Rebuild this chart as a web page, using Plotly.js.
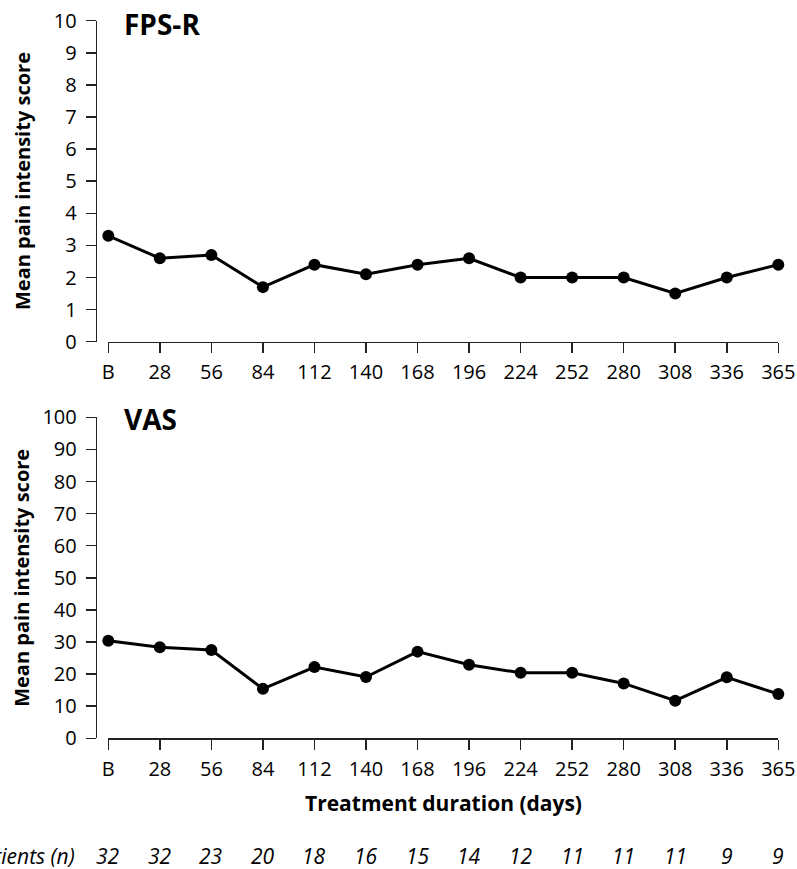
<!DOCTYPE html>
<html>
<head>
<meta charset="utf-8">
<script src="https://cdn.plot.ly/plotly-3.0.1.min.js"></script>
<style>html,body{margin:0;padding:0;background:#fff;}#chart{width:797px;height:869px;}</style>
</head>
<body>
<div id="chart"></div>
<script>
const categories = ['B','28','56','84','112','140','168','196','224','252','280','308','336','365'];
const fpsrValues = [3.3,2.6,2.7,1.7,2.4,2.1,2.4,2.6,2.0,2.0,2.0,1.5,2.0,2.4];
const vasValues = [30.4,28.4,27.5,15.4,22.2,19.1,27.0,22.9,20.4,20.4,17.1,11.7,19.0,13.8];
const patientCounts = [32,32,23,20,18,16,15,14,12,11,11,11,9,9];
const panelTitles = ['FPS-R','VAS'];
const yTitle = 'Mean pain intensity score';
const xTitle = 'Treatment duration (days)';
const patientsLabel = 'Number of patients (n)';

const W = 797, H = 869;
const FONT = 'Open Sans, sans-serif';
const px = v => v / W;
const py = v => 1 - v / H;

const xDom = [px(108.3), px(778.3)];
const yDomTop = [py(341.7), py(20.7)];
const yDomBot = [py(738.3), py(417.3)];
const yAxisPos = px(95.7);

const lineStyle = {color:'#000', width:3};
const markerStyle = {color:'#000', size:12};

const traces = [
  {x:categories, y:fpsrValues, xaxis:'x', yaxis:'y', type:'scatter', mode:'lines+markers',
   line:lineStyle, marker:markerStyle, cliponaxis:false, showlegend:false},
  {x:categories, y:vasValues, xaxis:'x2', yaxis:'y2', type:'scatter', mode:'lines+markers',
   line:lineStyle, marker:markerStyle, cliponaxis:false, showlegend:false}
];

const tickFont = {family:FONT, size:20, color:'#000'};
function xAxis(yref){
  return {domain:xDom, anchor:yref, type:'category', range:[0,13], showline:true, linecolor:'#222',
    linewidth:1.5, ticks:'outside', ticklen:10, tickwidth:1.5, tickcolor:'#222', showgrid:false,
    zeroline:false, tickfont:tickFont, fixedrange:true, ticklabelstandoff:2};
}
function yAxis(dom, rng, dt){
  return {domain:dom, anchor:'free', position:yAxisPos, range:rng, dtick:dt, tick0:0, showline:true,
    linecolor:'#222', linewidth:1.5, ticks:'outside', ticklen:10, tickwidth:1.5, tickcolor:'#222',
    showgrid:false, zeroline:false, tickfont:tickFont, fixedrange:true, ticklabelstandoff:5};
}

const annotations = [];
annotations.push({text:'<b>'+panelTitles[0]+'</b>', xref:'paper', yref:'paper', x:px(122), y:py(24), xanchor:'left', yanchor:'middle', showarrow:false, font:{family:FONT, size:28, color:'#000'}});
annotations.push({text:'<b>'+panelTitles[1]+'</b>', xref:'paper', yref:'paper', x:px(122), y:py(419), xanchor:'left', yanchor:'middle', showarrow:false, font:{family:FONT, size:28, color:'#000'}});
[181, 577.8].forEach(c => annotations.push({text:'<b>'+yTitle+'</b>', xref:'paper', yref:'paper', x:px(22), y:py(c), xanchor:'center', yanchor:'middle', textangle:-90, showarrow:false, font:{family:FONT, size:20, color:'#000'}}));
annotations.push({text:'<b>'+xTitle+'</b>', xref:'paper', yref:'paper', x:px(443), y:py(803), xanchor:'center', yanchor:'middle', showarrow:false, font:{family:FONT, size:21, color:'#000'}});
annotations.push({text:'<i>'+patientsLabel+'</i>', xref:'paper', yref:'paper', x:px(77), y:py(856), xanchor:'right', yanchor:'middle', showarrow:false, font:{family:FONT, size:21, color:'#000'}});
categories.forEach((c,i) => annotations.push({text:'<i>'+patientCounts[i]+'</i>', xref:'x2', yref:'paper', x:i, y:py(856), xanchor:'center', yanchor:'middle', showarrow:false, font:{family:FONT, size:21, color:'#000'}}));

const layout = {
  width:W, height:H, margin:{l:0,r:0,t:0,b:0}, paper_bgcolor:'#fff', plot_bgcolor:'#fff',
  xaxis:xAxis('y'), yaxis:yAxis(yDomTop,[0,10],1),
  xaxis2:xAxis('y2'), yaxis2:yAxis(yDomBot,[0,100],10),
  annotations:annotations, showlegend:false, font:{family:FONT}
};
Plotly.newPlot('chart', traces, layout, {staticPlot:true, displayModeBar:false});
</script>
</body>
</html>
